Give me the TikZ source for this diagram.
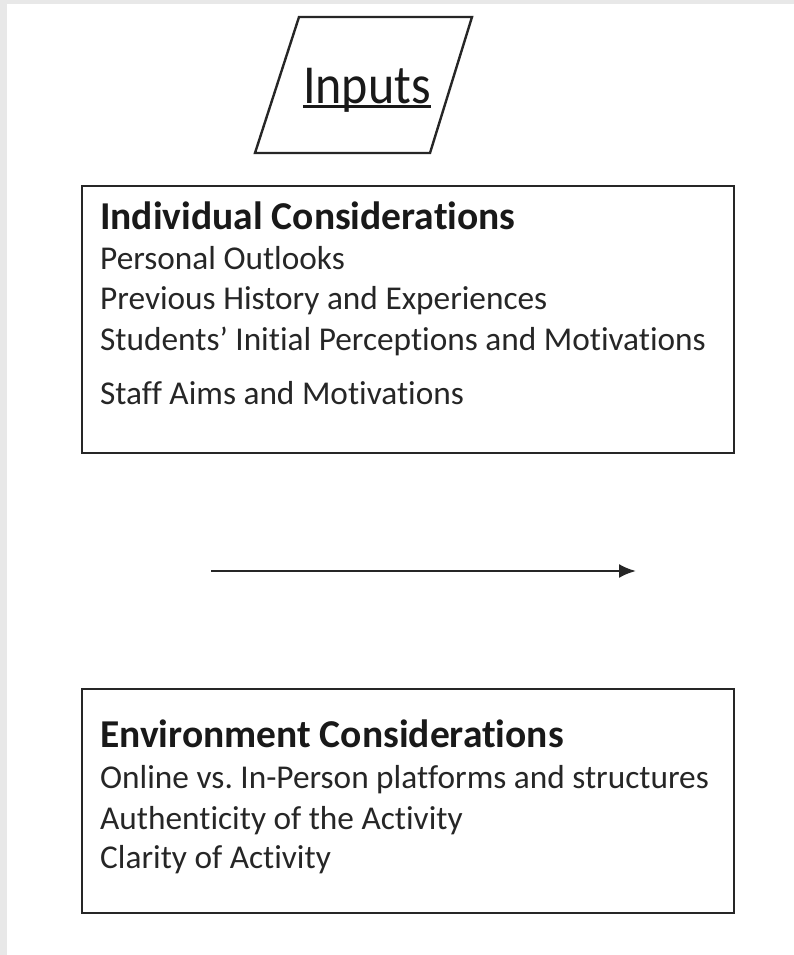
\documentclass[tikz,border=0pt]{standalone}
\usepackage{fontspec}
\setmainfont[Ligatures=NoCommon]{Carlito}
\usetikzlibrary{arrows.meta}
\begin{document}
\frenchspacing
\begin{tikzpicture}[x=1pt,y=-1pt,
  frame/.style={draw=black!85,line width=2.6pt,rectangle,inner sep=0pt},
  head/.style={anchor=base west,inner sep=0pt,font=\fontsize{39.5}{46}\selectfont\bfseries,text=black!90},
  body/.style={anchor=base west,inner sep=0pt,font=\fontsize{33.3}{40}\selectfont,text=black!85},
  conn/.style={draw=black!85,line width=2.4pt,-{Latex[length=17pt,width=14pt]}}]
\useasboundingbox (0,0) rectangle (794,955);
\fill[white] (0,0) rectangle (794,955);
\fill[gray!18] (0,0) rectangle (7,955);
\fill[gray!18] (0,0) rectangle (794,4);
% Inputs parallelogram
\coordinate (pTL) at (299,17);
\coordinate (pTR) at (472,17);
\coordinate (pBR) at (430,153);
\coordinate (pBL) at (255,153);
\draw[black!85,line width=2.4pt,line join=miter] (pTL) -- (pTR) -- (pBR) -- (pBL) -- cycle;
\node[anchor=base,inner sep=0pt,font=\fontsize{50}{60}\selectfont,text=black!90,yscale=1.1] (inp) at (367,103) {Inputs};
\draw[black!90,line width=3pt] ([yshift=-4pt]inp.base west) -- ([yshift=-4pt]inp.base east);
% Box 1
\node[frame,minimum width=652pt,minimum height=267pt] (box1) at (408,319.5) {};
\node[head] (h1) at (100,229) {Individual Considerations};
\node[body] (l11) at (100,269) {Personal Outlooks};
\node[body] (l12) at (100,309) {Previous History and Experiences};
\node[body] (l13) at (100,350) {Students’ Initial Perceptions and Motivations};
\node[body] (l14) at (100,404) {Staff Aims and Motivations};
% Arrow
\coordinate (arrS) at (211,571);
\coordinate (arrE) at (636,571);
\draw[conn] (arrS) -- (arrE);
% Box 2
\node[frame,minimum width=652pt,minimum height=224pt] (box2) at (408,801) {};
\node[head] (h2) at (100,747) {Environment Considerations};
\node[body] (l21) at (100,788) {Online vs. In-Person platforms and structures};
\node[body] (l22) at (100,829) {Authenticity of the Activity};
\node[body] (l23) at (100,868) {Clarity of Activity};
\end{tikzpicture}
\end{document}
